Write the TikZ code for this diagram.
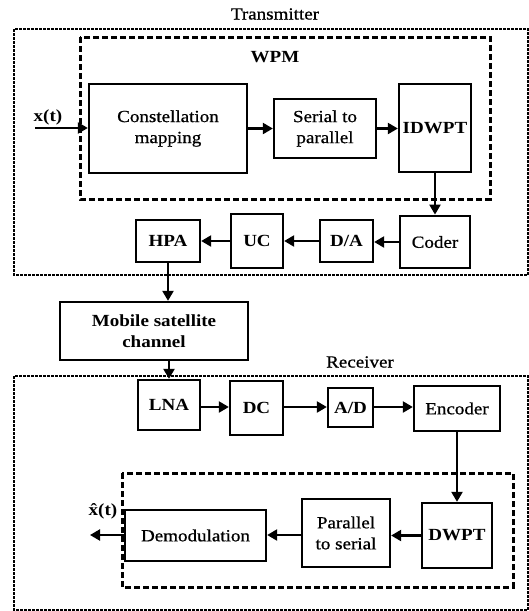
\documentclass[tikz,border=0pt]{standalone}
\usepackage{fontspec}
\setmainfont{Liberation Serif}[FakeStretch=1.12,UprightFeatures={FakeBold=0.8}]
\usetikzlibrary{arrows.meta}
\begin{document}
\begin{tikzpicture}[x=1pt,y=-1pt,
  font=\fontsize{17}{21}\selectfont,
  blk/.style={draw,line width=2.3pt,align=center,inner sep=0pt},
  thickblk/.style={blk,line width=2.8pt},
  outerbox/.style={line width=1.7pt,dash pattern=on 3pt off 1pt},
  wpmbox/.style={line width=3pt,dash pattern=on 6pt off 3pt},
  arr/.style={line width=2.2pt,-{Triangle[length=10pt,width=11pt]}},
  lbl/.style={inner sep=0pt,align=center}]
\useasboundingbox (0,0) rectangle (529,611);
% outer boxes
\draw[outerbox] (14,29) rectangle (528,275);
\draw[outerbox] (14,376) rectangle (528,610);
\draw[wpmbox] (80,37) rectangle (490,199);
\draw[wpmbox] (122,473) rectangle (513,587);
% labels
\node[lbl] (tx) at (275,14) {Transmitter};
\node[lbl] (wpm) at (275,57) {\bfseries WPM};
\node[lbl] (rx) at (360,362) {Receiver};
\node[lbl] (xin) at (48,117) {\bfseries x(t)};
\node[lbl] (xout) at (103,511) {\bfseries \^{x}(t)};
% transmitter blocks
\node[blk,minimum width=158,minimum height=89] (cm) at (168,128.5) {Constellation\\mapping};
\node[blk,minimum width=102,minimum height=59] (sp) at (325,128.5) {Serial to\\parallel};
\node[blk,minimum width=72,minimum height=88] (idwpt) at (435,128) {\bfseries IDWPT};
\node[thickblk,minimum width=70,minimum height=52] (coder) at (435,242) {Coder};
\node[blk,minimum width=53,minimum height=42] (da) at (346.5,241) {\bfseries D/A};
\node[blk,minimum width=52,minimum height=54] (uc) at (257,241) {\bfseries UC};
\node[blk,minimum width=64,minimum height=42] (hpa) at (168,241) {\bfseries HPA};
\node[blk,minimum width=188,minimum height=58] (chan) at (154,331) {\bfseries Mobile satellite\\\bfseries channel};
% receiver blocks
\node[blk,minimum width=62,minimum height=50] (lna) at (169,405) {\bfseries LNA};
\node[blk,minimum width=53,minimum height=54] (dc) at (256.5,408) {\bfseries DC};
\node[blk,minimum width=45,minimum height=39] (ad) at (350.5,407.5) {\bfseries A/D};
\node[blk,minimum width=86,minimum height=45] (enc) at (457,408.5) {Encoder};
\node[blk,minimum width=70,minimum height=65] (dwpt) at (457,535.5) {\bfseries DWPT};
\node[blk,minimum width=88,minimum height=68] (ps) at (346,533) {Parallel\\to serial};
\node[blk,minimum width=141,minimum height=51] (demod) at (195.5,535.5) {Demodulation};
% coordinates for free ends
\coordinate (inS) at (35,128);
\coordinate (outE) at (90,535);
% connectors transmitter
\draw[arr] (inS) -- (inS -| cm.west);
\draw[arr] (cm.east) -- (sp.west);
\draw[arr] (sp.east) -- (sp.east -| idwpt.west);
\draw[arr] (idwpt.south) -- (coder.north);
\draw[arr] (coder.west) -- (coder.west -| da.east);
\draw[arr] (da.west) -- (da.west -| uc.east);
\draw[arr] (uc.west) -- (uc.west -| hpa.east);
\draw[arr] (hpa.south) -- (hpa.south |- chan.north);
% connectors receiver
\draw[arr] (lna.north |- chan.south) -- (lna.north);
\draw[arr] (lna.east |- 0,407) -- (dc.west |- 0,407);
\draw[arr] (dc.east |- 0,407) -- (ad.west |- 0,407);
\draw[arr] (ad.east |- 0,407) -- (enc.west |- 0,407);
\draw[arr] (enc.south) -- (dwpt.north);
\draw[arr] (dwpt.west) -- (dwpt.west -| ps.east);
\draw[arr] (ps.west |- 0,535) -- (demod.east |- 0,535);
\draw[arr] (demod.west |- 0,535) -- (outE);
\end{tikzpicture}
\end{document}
